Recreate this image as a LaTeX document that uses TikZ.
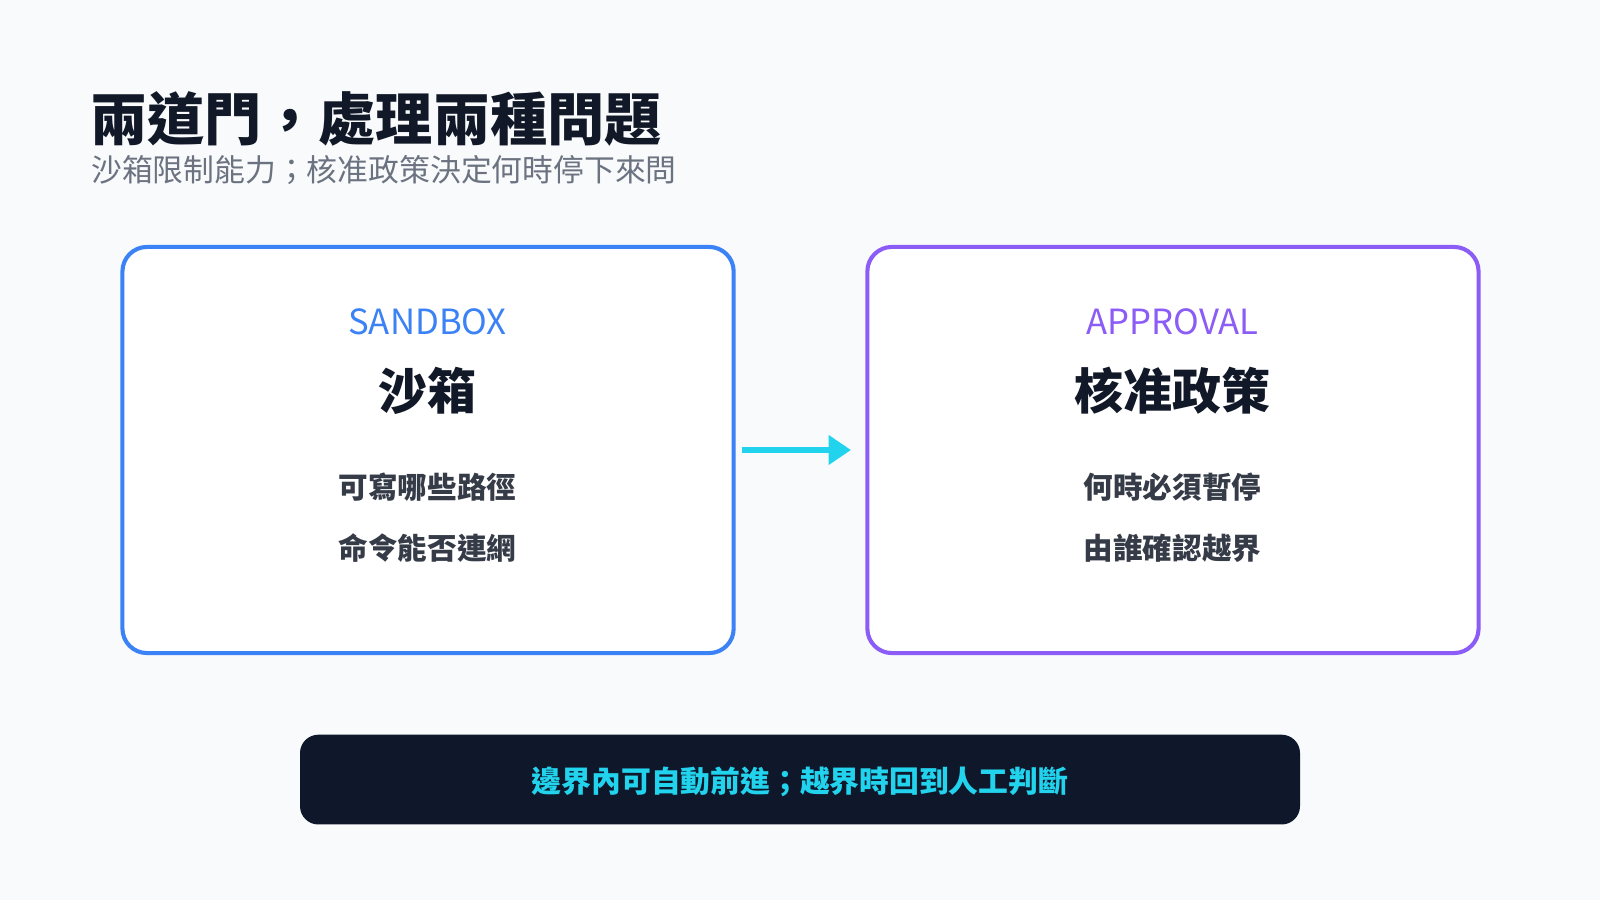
\documentclass[tikz,border=0pt]{standalone}
\usepackage{fontspec}
\setmainfont{Noto Sans CJK TC}
\usepackage{tikz}
\usetikzlibrary{positioning,arrows.meta}
\definecolor{bgcol}{HTML}{F8FAFC}
\definecolor{ink}{HTML}{111827}
\definecolor{subgray}{HTML}{6B7280}
\definecolor{sandblue}{HTML}{3B82F6}
\definecolor{apprpurple}{HTML}{8B5CF6}
\definecolor{flowcyan}{HTML}{22D3EE}
\definecolor{barnavy}{HTML}{0F172A}
\tikzset{
	gate/.style = {draw=#1, line width=2pt, fill=white, rounded corners=12pt},
	tag/.style = {text=#1, font=\fontsize{17}{19}\selectfont},
	heading/.style = {text=ink, font=\fontsize{24}{27}\selectfont\bfseries},
	item/.style = {text=ink!85, font=\fontsize{14.5}{17}\selectfont\bfseries},
}
\begin{document}
\begin{tikzpicture}[x=0.5pt,y=-0.5pt]
	\fill[bgcol] (0,0) rectangle (1568,882);
	\useasboundingbox (0,0) rectangle (1568,882);
	% title
	\node[anchor=west, inner sep=0, text=ink, font=\fontsize{28}{31}\selectfont\bfseries] (title) at (88,117) {兩道門，處理兩種問題};
	\node[anchor=west, inner sep=0, text=subgray, font=\fontsize{15.1}{18}\selectfont] (subtitle) at (89,167) {沙箱限制能力；核准政策決定何時停下來問};
	% gates
	\draw[gate=sandblue] (120,242) rectangle (719,640);
	\draw[gate=apprpurple] (850,242) rectangle (1449,640);
	\node[tag=sandblue] (sbtag) at (419,315) {SANDBOX};
	\node[heading] (sbhead) at (419,383) {沙箱};
	\node[item] (sbone) at (419,477) {可寫哪些路徑};
	\node[item] (sbtwo) at (419,537) {命令能否連網};
	\node[tag=apprpurple] (aptag) at (1149,315) {APPROVAL};
	\node[heading] (aphead) at (1149,383) {核准政策};
	\node[item] (apone) at (1149,477) {何時必須暫停};
	\node[item] (aptwo) at (1149,537) {由誰確認越界};
	% flow
	\coordinate (from) at (727,441);
	\coordinate (to) at (834,441);
	\draw[flowcyan, line width=3pt, -{Triangle[length=11pt,width=14pt]}] (from) -- (to);
	% footer
	\fill[barnavy, rounded corners=9pt] (294,720) rectangle (1274,808);
	\node[text=flowcyan, font=\fontsize{14.6}{17}\selectfont\bfseries] (footer) at (784,766) {邊界內可自動前進；越界時回到人工判斷};
\end{tikzpicture}
\end{document}
